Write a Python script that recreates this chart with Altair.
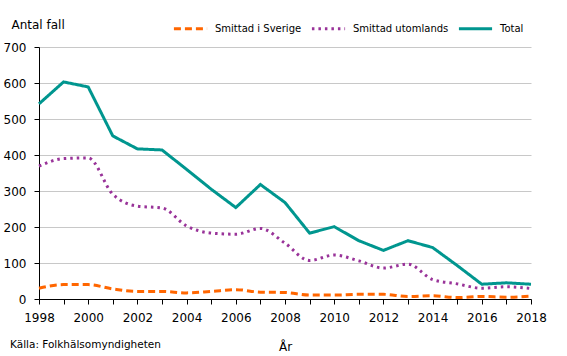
import altair as alt
import pandas as pd

years = list(range(1998, 2019))
sverige = [30, 40, 40, 28, 21, 21, 17, 21, 26, 19, 18, 11, 11, 13, 13, 7, 9, 4, 7, 5, 8]
utomlands = [369, 390, 392, 291, 258, 253, 203, 183, 180, 196, 155, 107, 122, 106, 86, 97, 54, 42, 30, 34, 29]
total = [542, 603, 589, 453, 417, 414, 360, 305, 254, 318, 268, 183, 201, 162, 135, 162, 143, 93, 41, 45, 41]

series_names = ["Smittad i Sverige", "Smittad utomlands", "Total"]
series_colors = ["#FF6600", "#993399", "#00968F"]
series_dash = [[7, 4], [2.5, 4], [1, 0]]

rows = []
for name, vals in zip(series_names, [sverige, utomlands, total]):
    for y, v in zip(years, vals):
        rows.append({"year": y, "value": v, "series": name})
df = pd.DataFrame(rows)

FONT = "DejaVu Sans"

x_enc = alt.X(
    "year:Q",
    scale=alt.Scale(domain=[1998, 2018], nice=False, zero=False),
    axis=alt.Axis(
        title="År",
        values=years,
        format="d",
        labelExpr="datum.value % 2 == 0 ? datum.label : ''",
        grid=False,
        domainColor="#000000",
        tickColor="#000000",
        tickSize=5,
        labelPadding=8,
        titleY=51,
        titleBaseline="alphabetic",
        labelFlush=False,
    ),
)
y_enc = alt.Y(
    "value:Q",
    scale=alt.Scale(domain=[0, 700], nice=False),
    axis=alt.Axis(
        title="Antal fall",
        values=[0, 100, 200, 300, 400, 500, 600, 700],
        titleAngle=0,
        titleAlign="left",
        titleX=-28,
        titleY=-19,
        titleBaseline="alphabetic",
        grid=True,
        gridColor="#C8C8C8",
        domainColor="#000000",
        tickColor="#000000",
        tickSize=5,
        labelPadding=8,
    ),
)
leg = dict(
    title=None,
    orient="none",
    legendX=133,
    legendY=-37,
    direction="horizontal",
    symbolType="stroke",
    symbolSize=1100,
    symbolStrokeWidth=3,
    columnPadding=3,
    labelOffset=6,
)
color_enc = alt.Color(
    "series:N",
    scale=alt.Scale(domain=series_names, range=series_colors),
    legend=alt.Legend(**leg),
)
dash_enc = alt.StrokeDash(
    "series:N",
    scale=alt.Scale(domain=series_names, range=series_dash),
    legend=alt.Legend(**leg),
)

base = alt.Chart(df)
others = base.transform_filter(alt.datum.series != "Total").mark_line(
    interpolate="monotone", strokeWidth=3, strokeCap="butt"
).encode(x=x_enc, y=y_enc, color=color_enc, strokeDash=dash_enc)
tot = base.transform_filter(alt.datum.series == "Total").mark_line(
    strokeWidth=3
).encode(x=x_enc, y=y_enc, color=color_enc, strokeDash=dash_enc)

source = alt.Chart(pd.DataFrame({"t": ["Källa: Folkhälsomyndigheten"]})).mark_text(
    align="left", baseline="alphabetic", font=FONT, fontSize=10.5, color="#000000"
).encode(x=alt.value(-29), y=alt.value(301), text="t:N")

chart = alt.layer(others, tot, source).properties(
    width=492,
    height=252,
    padding={"left": 39, "top": 47, "right": 36, "bottom": 57},
    autosize=alt.AutoSizeParams(type="none"),
).configure_view(stroke=None).configure_axis(
    labelFont=FONT, titleFont=FONT, labelFontSize=12, titleFontSize=12,
    titleFontWeight="normal", labelColor="#000000", titleColor="#000000",
).configure_legend(labelFont=FONT, labelFontSize=10, labelColor="#000000")

chart.save("out.html", embed_options={"renderer": "svg", "actions": False})
